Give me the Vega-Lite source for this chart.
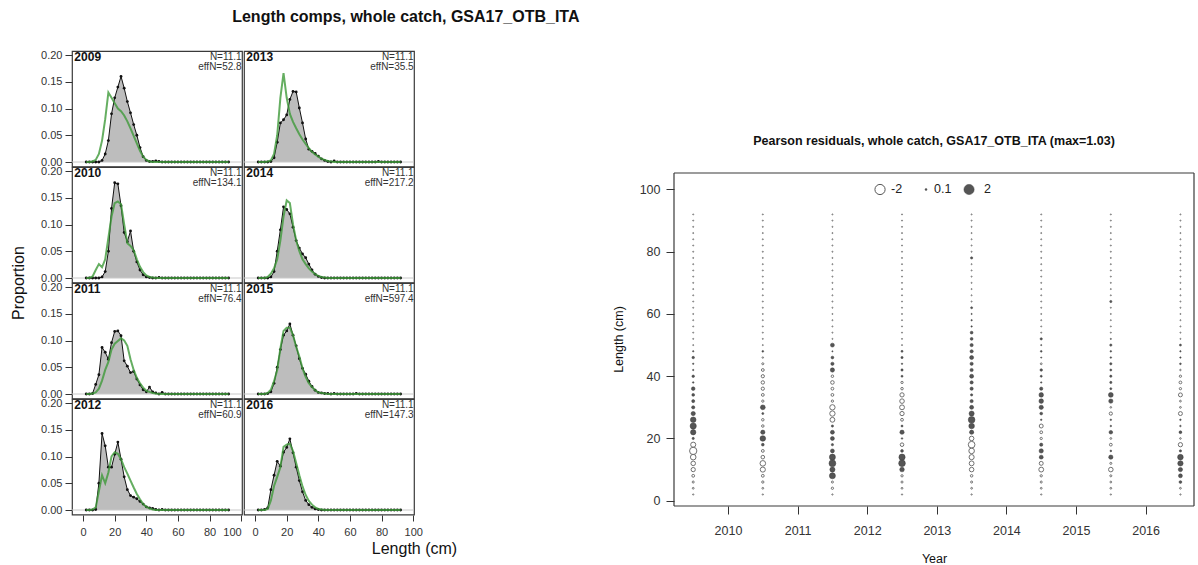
{
  "$schema": "https://vega.github.io/schema/vega-lite/v6.json",
  "background": "white",
  "padding": {"left": 10, "top": 9, "right": 0, "bottom": 0},
  "config": {
    "font": "Liberation Sans",
    "view": {"stroke": "#3a3a3a", "strokeWidth": 1.2},
    "axis": {"grid": false, "labelColor": "#333333", "tickColor": "#333333", "domainColor": "#333333", "titleColor": "#111111", "titleFontWeight": "normal", "labelFlush": false, "labelOverlap": false},
    "title": {"color": "#111111"}
  },
  "datasets": {
    "panels": [
      {"year": 2009, "nLabel": "N=11.1", "effLabel": "effN=52.8"},
      {"year": 2010, "nLabel": "N=11.1", "effLabel": "effN=134.1"},
      {"year": 2011, "nLabel": "N=11.1", "effLabel": "effN=76.4"},
      {"year": 2012, "nLabel": "N=11.1", "effLabel": "effN=60.9"},
      {"year": 2013, "nLabel": "N=11.1", "effLabel": "effN=35.5"},
      {"year": 2014, "nLabel": "N=11.1", "effLabel": "effN=217.2"},
      {"year": 2015, "nLabel": "N=11.1", "effLabel": "effN=597.4"},
      {"year": 2016, "nLabel": "N=11.1", "effLabel": "effN=147.3"}
    ],
    "comps": [
      {"year":2009,"yearSeason":2009.5,"len":2,"obs":0,"exp":0,"resid":-0.03},
      {"year":2009,"yearSeason":2009.5,"len":4,"obs":0,"exp":0,"resid":-0.06},
      {"year":2009,"yearSeason":2009.5,"len":6,"obs":0,"exp":0.001,"resid":-0.08},
      {"year":2009,"yearSeason":2009.5,"len":8,"obs":0,"exp":0.004,"resid":-0.15},
      {"year":2009,"yearSeason":2009.5,"len":10,"obs":0,"exp":0.015,"resid":-0.35},
      {"year":2009,"yearSeason":2009.5,"len":12,"obs":0.003,"exp":0.04,"resid":-0.4},
      {"year":2009,"yearSeason":2009.5,"len":14,"obs":0.015,"exp":0.08,"resid":-0.6},
      {"year":2009,"yearSeason":2009.5,"len":16,"obs":0.04,"exp":0.13,"resid":-1.03},
      {"year":2009,"yearSeason":2009.5,"len":18,"obs":0.09,"exp":0.12,"resid":-0.5},
      {"year":2009,"yearSeason":2009.5,"len":20,"obs":0.12,"exp":0.11,"resid":0.1},
      {"year":2009,"yearSeason":2009.5,"len":22,"obs":0.14,"exp":0.1,"resid":0.55},
      {"year":2009,"yearSeason":2009.5,"len":24,"obs":0.16,"exp":0.095,"resid":0.75},
      {"year":2009,"yearSeason":2009.5,"len":26,"obs":0.138,"exp":0.087,"resid":0.6},
      {"year":2009,"yearSeason":2009.5,"len":28,"obs":0.113,"exp":0.076,"resid":0.35},
      {"year":2009,"yearSeason":2009.5,"len":30,"obs":0.092,"exp":0.063,"resid":0.2},
      {"year":2009,"yearSeason":2009.5,"len":32,"obs":0.07,"exp":0.049,"resid":0.18},
      {"year":2009,"yearSeason":2009.5,"len":34,"obs":0.05,"exp":0.035,"resid":0.15},
      {"year":2009,"yearSeason":2009.5,"len":36,"obs":0.027,"exp":0.021,"resid":0.25},
      {"year":2009,"yearSeason":2009.5,"len":38,"obs":0.01,"exp":0.01,"resid":0.05},
      {"year":2009,"yearSeason":2009.5,"len":40,"obs":0.003,"exp":0.004,"resid":0.12},
      {"year":2009,"yearSeason":2009.5,"len":42,"obs":0.001,"exp":0.001,"resid":0.04},
      {"year":2009,"yearSeason":2009.5,"len":44,"obs":0.001,"exp":0,"resid":0.04},
      {"year":2009,"yearSeason":2009.5,"len":46,"obs":0.002,"exp":0,"resid":0.12},
      {"year":2009,"yearSeason":2009.5,"len":48,"obs":0.001,"exp":0,"resid":0.04},
      {"year":2009,"yearSeason":2009.5,"len":50,"obs":0,"exp":0,"resid":-0.02},
      {"year":2009,"yearSeason":2009.5,"len":52,"obs":0,"exp":0,"resid":-0.02},
      {"year":2009,"yearSeason":2009.5,"len":54,"obs":0,"exp":0,"resid":-0.02},
      {"year":2009,"yearSeason":2009.5,"len":56,"obs":0,"exp":0,"resid":-0.02},
      {"year":2009,"yearSeason":2009.5,"len":58,"obs":0,"exp":0,"resid":-0.02},
      {"year":2009,"yearSeason":2009.5,"len":60,"obs":0,"exp":0,"resid":-0.02},
      {"year":2009,"yearSeason":2009.5,"len":62,"obs":0,"exp":0,"resid":-0.02},
      {"year":2009,"yearSeason":2009.5,"len":64,"obs":0,"exp":0,"resid":-0.02},
      {"year":2009,"yearSeason":2009.5,"len":66,"obs":0,"exp":0,"resid":-0.02},
      {"year":2009,"yearSeason":2009.5,"len":68,"obs":0,"exp":0,"resid":-0.02},
      {"year":2009,"yearSeason":2009.5,"len":70,"obs":0,"exp":0,"resid":-0.02},
      {"year":2009,"yearSeason":2009.5,"len":72,"obs":0,"exp":0,"resid":-0.02},
      {"year":2009,"yearSeason":2009.5,"len":74,"obs":0,"exp":0,"resid":-0.02},
      {"year":2009,"yearSeason":2009.5,"len":76,"obs":0,"exp":0,"resid":-0.02},
      {"year":2009,"yearSeason":2009.5,"len":78,"obs":0,"exp":0,"resid":-0.02},
      {"year":2009,"yearSeason":2009.5,"len":80,"obs":0,"exp":0,"resid":-0.02},
      {"year":2009,"yearSeason":2009.5,"len":82,"obs":0,"exp":0,"resid":-0.02},
      {"year":2009,"yearSeason":2009.5,"len":84,"obs":0,"exp":0,"resid":-0.02},
      {"year":2009,"yearSeason":2009.5,"len":86,"obs":0,"exp":0,"resid":-0.02},
      {"year":2009,"yearSeason":2009.5,"len":88,"obs":0,"exp":0,"resid":-0.02},
      {"year":2009,"yearSeason":2009.5,"len":90,"obs":0,"exp":0,"resid":-0.02},
      {"year":2009,"yearSeason":2009.5,"len":92,"obs":0,"exp":0,"resid":-0.02},

      {"year":2010,"yearSeason":2010.5,"len":2,"obs":0,"exp":0,"resid":-0.03},
      {"year":2010,"yearSeason":2010.5,"len":4,"obs":0,"exp":0,"resid":-0.06},
      {"year":2010,"yearSeason":2010.5,"len":6,"obs":0,"exp":0.003,"resid":-0.1},
      {"year":2010,"yearSeason":2010.5,"len":8,"obs":0,"exp":0.015,"resid":-0.15},
      {"year":2010,"yearSeason":2010.5,"len":10,"obs":0,"exp":0.026,"resid":-0.5},
      {"year":2010,"yearSeason":2010.5,"len":12,"obs":0.002,"exp":0.02,"resid":-0.6},
      {"year":2010,"yearSeason":2010.5,"len":14,"obs":0.012,"exp":0.035,"resid":-0.25},
      {"year":2010,"yearSeason":2010.5,"len":16,"obs":0.05,"exp":0.075,"resid":-0.15},
      {"year":2010,"yearSeason":2010.5,"len":18,"obs":0.13,"exp":0.115,"resid":0.15},
      {"year":2010,"yearSeason":2010.5,"len":20,"obs":0.178,"exp":0.14,"resid":0.6},
      {"year":2010,"yearSeason":2010.5,"len":22,"obs":0.176,"exp":0.143,"resid":0.35},
      {"year":2010,"yearSeason":2010.5,"len":24,"obs":0.135,"exp":0.138,"resid":-0.12},
      {"year":2010,"yearSeason":2010.5,"len":26,"obs":0.085,"exp":0.1,"resid":-0.12},
      {"year":2010,"yearSeason":2010.5,"len":28,"obs":0.068,"exp":0.065,"resid":0.08},
      {"year":2010,"yearSeason":2010.5,"len":30,"obs":0.088,"exp":0.06,"resid":0.45},
      {"year":2010,"yearSeason":2010.5,"len":32,"obs":0.05,"exp":0.052,"resid":-0.1},
      {"year":2010,"yearSeason":2010.5,"len":34,"obs":0.03,"exp":0.035,"resid":-0.15},
      {"year":2010,"yearSeason":2010.5,"len":36,"obs":0.015,"exp":0.021,"resid":-0.2},
      {"year":2010,"yearSeason":2010.5,"len":38,"obs":0.006,"exp":0.011,"resid":-0.22},
      {"year":2010,"yearSeason":2010.5,"len":40,"obs":0.002,"exp":0.005,"resid":-0.2},
      {"year":2010,"yearSeason":2010.5,"len":42,"obs":0.001,"exp":0.002,"resid":-0.15},
      {"year":2010,"yearSeason":2010.5,"len":44,"obs":0,"exp":0.001,"resid":-0.08},
      {"year":2010,"yearSeason":2010.5,"len":46,"obs":0,"exp":0,"resid":-0.04},
      {"year":2010,"yearSeason":2010.5,"len":48,"obs":0.001,"exp":0,"resid":0.06},
      {"year":2010,"yearSeason":2010.5,"len":50,"obs":0,"exp":0,"resid":-0.02},
      {"year":2010,"yearSeason":2010.5,"len":52,"obs":0,"exp":0,"resid":-0.02},
      {"year":2010,"yearSeason":2010.5,"len":54,"obs":0,"exp":0,"resid":-0.02},
      {"year":2010,"yearSeason":2010.5,"len":56,"obs":0,"exp":0,"resid":-0.02},
      {"year":2010,"yearSeason":2010.5,"len":58,"obs":0,"exp":0,"resid":-0.02},
      {"year":2010,"yearSeason":2010.5,"len":60,"obs":0,"exp":0,"resid":-0.02},
      {"year":2010,"yearSeason":2010.5,"len":62,"obs":0,"exp":0,"resid":-0.02},
      {"year":2010,"yearSeason":2010.5,"len":64,"obs":0,"exp":0,"resid":-0.02},
      {"year":2010,"yearSeason":2010.5,"len":66,"obs":0,"exp":0,"resid":-0.02},
      {"year":2010,"yearSeason":2010.5,"len":68,"obs":0,"exp":0,"resid":-0.02},
      {"year":2010,"yearSeason":2010.5,"len":70,"obs":0,"exp":0,"resid":-0.02},
      {"year":2010,"yearSeason":2010.5,"len":72,"obs":0,"exp":0,"resid":-0.02},
      {"year":2010,"yearSeason":2010.5,"len":74,"obs":0,"exp":0,"resid":-0.02},
      {"year":2010,"yearSeason":2010.5,"len":76,"obs":0,"exp":0,"resid":-0.02},
      {"year":2010,"yearSeason":2010.5,"len":78,"obs":0,"exp":0,"resid":-0.02},
      {"year":2010,"yearSeason":2010.5,"len":80,"obs":0,"exp":0,"resid":-0.02},
      {"year":2010,"yearSeason":2010.5,"len":82,"obs":0,"exp":0,"resid":-0.02},
      {"year":2010,"yearSeason":2010.5,"len":84,"obs":0,"exp":0,"resid":-0.02},
      {"year":2010,"yearSeason":2010.5,"len":86,"obs":0,"exp":0,"resid":-0.02},
      {"year":2010,"yearSeason":2010.5,"len":88,"obs":0,"exp":0,"resid":-0.02},
      {"year":2010,"yearSeason":2010.5,"len":90,"obs":0,"exp":0,"resid":-0.02},
      {"year":2010,"yearSeason":2010.5,"len":92,"obs":0,"exp":0,"resid":-0.02},

      {"year":2011,"yearSeason":2011.5,"len":2,"obs":0,"exp":0,"resid":-0.03},
      {"year":2011,"yearSeason":2011.5,"len":4,"obs":0,"exp":0,"resid":-0.1},
      {"year":2011,"yearSeason":2011.5,"len":6,"obs":0.001,"exp":0.001,"resid":-0.08},
      {"year":2011,"yearSeason":2011.5,"len":8,"obs":0.018,"exp":0.003,"resid":0.7},
      {"year":2011,"yearSeason":2011.5,"len":10,"obs":0.036,"exp":0.01,"resid":0.5},
      {"year":2011,"yearSeason":2011.5,"len":12,"obs":0.087,"exp":0.025,"resid":0.9},
      {"year":2011,"yearSeason":2011.5,"len":14,"obs":0.078,"exp":0.045,"resid":0.7},
      {"year":2011,"yearSeason":2011.5,"len":16,"obs":0.065,"exp":0.06,"resid":0.3},
      {"year":2011,"yearSeason":2011.5,"len":18,"obs":0.096,"exp":0.083,"resid":0.1},
      {"year":2011,"yearSeason":2011.5,"len":20,"obs":0.117,"exp":0.094,"resid":0.3},
      {"year":2011,"yearSeason":2011.5,"len":22,"obs":0.118,"exp":0.099,"resid":0.3},
      {"year":2011,"yearSeason":2011.5,"len":24,"obs":0.109,"exp":0.104,"resid":0.1},
      {"year":2011,"yearSeason":2011.5,"len":26,"obs":0.062,"exp":0.1,"resid":-0.45},
      {"year":2011,"yearSeason":2011.5,"len":28,"obs":0.052,"exp":0.09,"resid":-0.55},
      {"year":2011,"yearSeason":2011.5,"len":30,"obs":0.04,"exp":0.065,"resid":-0.55},
      {"year":2011,"yearSeason":2011.5,"len":32,"obs":0.042,"exp":0.045,"resid":-0.1},
      {"year":2011,"yearSeason":2011.5,"len":34,"obs":0.028,"exp":0.03,"resid":-0.15},
      {"year":2011,"yearSeason":2011.5,"len":36,"obs":0.017,"exp":0.02,"resid":-0.15},
      {"year":2011,"yearSeason":2011.5,"len":38,"obs":0.008,"exp":0.012,"resid":-0.25},
      {"year":2011,"yearSeason":2011.5,"len":40,"obs":0.004,"exp":0.006,"resid":-0.12},
      {"year":2011,"yearSeason":2011.5,"len":42,"obs":0.013,"exp":0.004,"resid":0.35},
      {"year":2011,"yearSeason":2011.5,"len":44,"obs":0.004,"exp":0.002,"resid":0.2},
      {"year":2011,"yearSeason":2011.5,"len":46,"obs":0.002,"exp":0.001,"resid":0.15},
      {"year":2011,"yearSeason":2011.5,"len":48,"obs":0,"exp":0,"resid":0.03},
      {"year":2011,"yearSeason":2011.5,"len":50,"obs":0.003,"exp":0,"resid":0.3},
      {"year":2011,"yearSeason":2011.5,"len":52,"obs":0,"exp":0,"resid":-0.02},
      {"year":2011,"yearSeason":2011.5,"len":54,"obs":0,"exp":0,"resid":-0.02},
      {"year":2011,"yearSeason":2011.5,"len":56,"obs":0,"exp":0,"resid":-0.02},
      {"year":2011,"yearSeason":2011.5,"len":58,"obs":0,"exp":0,"resid":-0.02},
      {"year":2011,"yearSeason":2011.5,"len":60,"obs":0,"exp":0,"resid":-0.02},
      {"year":2011,"yearSeason":2011.5,"len":62,"obs":0,"exp":0,"resid":-0.02},
      {"year":2011,"yearSeason":2011.5,"len":64,"obs":0,"exp":0,"resid":-0.02},
      {"year":2011,"yearSeason":2011.5,"len":66,"obs":0,"exp":0,"resid":-0.02},
      {"year":2011,"yearSeason":2011.5,"len":68,"obs":0,"exp":0,"resid":-0.02},
      {"year":2011,"yearSeason":2011.5,"len":70,"obs":0,"exp":0,"resid":-0.02},
      {"year":2011,"yearSeason":2011.5,"len":72,"obs":0,"exp":0,"resid":-0.02},
      {"year":2011,"yearSeason":2011.5,"len":74,"obs":0,"exp":0,"resid":-0.02},
      {"year":2011,"yearSeason":2011.5,"len":76,"obs":0,"exp":0,"resid":-0.02},
      {"year":2011,"yearSeason":2011.5,"len":78,"obs":0,"exp":0,"resid":-0.02},
      {"year":2011,"yearSeason":2011.5,"len":80,"obs":0,"exp":0,"resid":-0.02},
      {"year":2011,"yearSeason":2011.5,"len":82,"obs":0,"exp":0,"resid":-0.02},
      {"year":2011,"yearSeason":2011.5,"len":84,"obs":0,"exp":0,"resid":-0.02},
      {"year":2011,"yearSeason":2011.5,"len":86,"obs":0,"exp":0,"resid":-0.02},
      {"year":2011,"yearSeason":2011.5,"len":88,"obs":0,"exp":0,"resid":-0.02},
      {"year":2011,"yearSeason":2011.5,"len":90,"obs":0,"exp":0,"resid":-0.02},
      {"year":2011,"yearSeason":2011.5,"len":92,"obs":0,"exp":0,"resid":-0.02},

      {"year":2012,"yearSeason":2012.5,"len":2,"obs":0,"exp":0,"resid":-0.03},
      {"year":2012,"yearSeason":2012.5,"len":4,"obs":0,"exp":0,"resid":-0.06},
      {"year":2012,"yearSeason":2012.5,"len":6,"obs":0,"exp":0.001,"resid":-0.08},
      {"year":2012,"yearSeason":2012.5,"len":8,"obs":0.001,"exp":0.005,"resid":-0.1},
      {"year":2012,"yearSeason":2012.5,"len":10,"obs":0.05,"exp":0.035,"resid":0.4},
      {"year":2012,"yearSeason":2012.5,"len":12,"obs":0.143,"exp":0.065,"resid":0.85},
      {"year":2012,"yearSeason":2012.5,"len":14,"obs":0.12,"exp":0.05,"resid":0.75},
      {"year":2012,"yearSeason":2012.5,"len":16,"obs":0.08,"exp":0.07,"resid":0.15},
      {"year":2012,"yearSeason":2012.5,"len":18,"obs":0.08,"exp":0.1,"resid":-0.25},
      {"year":2012,"yearSeason":2012.5,"len":20,"obs":0.104,"exp":0.108,"resid":0.05},
      {"year":2012,"yearSeason":2012.5,"len":22,"obs":0.127,"exp":0.105,"resid":0.35},
      {"year":2012,"yearSeason":2012.5,"len":24,"obs":0.095,"exp":0.095,"resid":0.08},
      {"year":2012,"yearSeason":2012.5,"len":26,"obs":0.062,"exp":0.08,"resid":-0.15},
      {"year":2012,"yearSeason":2012.5,"len":28,"obs":0.038,"exp":0.068,"resid":-0.35},
      {"year":2012,"yearSeason":2012.5,"len":30,"obs":0.027,"exp":0.055,"resid":-0.45},
      {"year":2012,"yearSeason":2012.5,"len":32,"obs":0.024,"exp":0.042,"resid":-0.4},
      {"year":2012,"yearSeason":2012.5,"len":34,"obs":0.021,"exp":0.03,"resid":-0.35},
      {"year":2012,"yearSeason":2012.5,"len":36,"obs":0.016,"exp":0.02,"resid":-0.12},
      {"year":2012,"yearSeason":2012.5,"len":38,"obs":0.011,"exp":0.011,"resid":-0.1},
      {"year":2012,"yearSeason":2012.5,"len":40,"obs":0.006,"exp":0.006,"resid":0.08},
      {"year":2012,"yearSeason":2012.5,"len":42,"obs":0.004,"exp":0.003,"resid":0.1},
      {"year":2012,"yearSeason":2012.5,"len":44,"obs":0.003,"exp":0.001,"resid":0.04},
      {"year":2012,"yearSeason":2012.5,"len":46,"obs":0.001,"exp":0,"resid":0.1},
      {"year":2012,"yearSeason":2012.5,"len":48,"obs":0,"exp":0,"resid":0.08},
      {"year":2012,"yearSeason":2012.5,"len":50,"obs":0.001,"exp":0,"resid":-0.02},
      {"year":2012,"yearSeason":2012.5,"len":52,"obs":0,"exp":0,"resid":-0.02},
      {"year":2012,"yearSeason":2012.5,"len":54,"obs":0,"exp":0,"resid":-0.02},
      {"year":2012,"yearSeason":2012.5,"len":56,"obs":0,"exp":0,"resid":-0.02},
      {"year":2012,"yearSeason":2012.5,"len":58,"obs":0,"exp":0,"resid":-0.02},
      {"year":2012,"yearSeason":2012.5,"len":60,"obs":0,"exp":0,"resid":-0.02},
      {"year":2012,"yearSeason":2012.5,"len":62,"obs":0,"exp":0,"resid":-0.02},
      {"year":2012,"yearSeason":2012.5,"len":64,"obs":0,"exp":0,"resid":-0.02},
      {"year":2012,"yearSeason":2012.5,"len":66,"obs":0,"exp":0,"resid":-0.02},
      {"year":2012,"yearSeason":2012.5,"len":68,"obs":0,"exp":0,"resid":-0.02},
      {"year":2012,"yearSeason":2012.5,"len":70,"obs":0,"exp":0,"resid":-0.02},
      {"year":2012,"yearSeason":2012.5,"len":72,"obs":0,"exp":0,"resid":-0.02},
      {"year":2012,"yearSeason":2012.5,"len":74,"obs":0,"exp":0,"resid":-0.02},
      {"year":2012,"yearSeason":2012.5,"len":76,"obs":0,"exp":0,"resid":-0.02},
      {"year":2012,"yearSeason":2012.5,"len":78,"obs":0,"exp":0,"resid":-0.02},
      {"year":2012,"yearSeason":2012.5,"len":80,"obs":0,"exp":0,"resid":-0.02},
      {"year":2012,"yearSeason":2012.5,"len":82,"obs":0,"exp":0,"resid":-0.02},
      {"year":2012,"yearSeason":2012.5,"len":84,"obs":0,"exp":0,"resid":-0.02},
      {"year":2012,"yearSeason":2012.5,"len":86,"obs":0,"exp":0,"resid":-0.02},
      {"year":2012,"yearSeason":2012.5,"len":88,"obs":0,"exp":0,"resid":-0.02},
      {"year":2012,"yearSeason":2012.5,"len":90,"obs":0,"exp":0,"resid":-0.02},
      {"year":2012,"yearSeason":2012.5,"len":92,"obs":0,"exp":0,"resid":-0.02},

      {"year":2013,"yearSeason":2013.5,"len":2,"obs":0,"exp":0,"resid":-0.03},
      {"year":2013,"yearSeason":2013.5,"len":4,"obs":0,"exp":0,"resid":-0.06},
      {"year":2013,"yearSeason":2013.5,"len":6,"obs":0,"exp":0,"resid":-0.08},
      {"year":2013,"yearSeason":2013.5,"len":8,"obs":0,"exp":0.001,"resid":-0.12},
      {"year":2013,"yearSeason":2013.5,"len":10,"obs":0.001,"exp":0.003,"resid":-0.4},
      {"year":2013,"yearSeason":2013.5,"len":12,"obs":0.008,"exp":0.015,"resid":-0.45},
      {"year":2013,"yearSeason":2013.5,"len":14,"obs":0.037,"exp":0.05,"resid":-0.5},
      {"year":2013,"yearSeason":2013.5,"len":16,"obs":0.073,"exp":0.12,"resid":-0.6},
      {"year":2013,"yearSeason":2013.5,"len":18,"obs":0.079,"exp":0.166,"resid":-0.85},
      {"year":2013,"yearSeason":2013.5,"len":20,"obs":0.088,"exp":0.12,"resid":-0.4},
      {"year":2013,"yearSeason":2013.5,"len":22,"obs":0.117,"exp":0.09,"resid":0.35},
      {"year":2013,"yearSeason":2013.5,"len":24,"obs":0.132,"exp":0.075,"resid":0.6},
      {"year":2013,"yearSeason":2013.5,"len":26,"obs":0.131,"exp":0.063,"resid":0.85},
      {"year":2013,"yearSeason":2013.5,"len":28,"obs":0.101,"exp":0.052,"resid":0.5},
      {"year":2013,"yearSeason":2013.5,"len":30,"obs":0.073,"exp":0.042,"resid":0.3},
      {"year":2013,"yearSeason":2013.5,"len":32,"obs":0.043,"exp":0.034,"resid":0.2},
      {"year":2013,"yearSeason":2013.5,"len":34,"obs":0.024,"exp":0.026,"resid":0.1},
      {"year":2013,"yearSeason":2013.5,"len":36,"obs":0.02,"exp":0.019,"resid":0.2},
      {"year":2013,"yearSeason":2013.5,"len":38,"obs":0.016,"exp":0.014,"resid":0.2},
      {"year":2013,"yearSeason":2013.5,"len":40,"obs":0.011,"exp":0.01,"resid":0.3},
      {"year":2013,"yearSeason":2013.5,"len":42,"obs":0.006,"exp":0.006,"resid":0.2},
      {"year":2013,"yearSeason":2013.5,"len":44,"obs":0.003,"exp":0.004,"resid":0.2},
      {"year":2013,"yearSeason":2013.5,"len":46,"obs":0.001,"exp":0.002,"resid":0.3},
      {"year":2013,"yearSeason":2013.5,"len":48,"obs":0,"exp":0.001,"resid":0.2},
      {"year":2013,"yearSeason":2013.5,"len":50,"obs":0.002,"exp":0,"resid":0.2},
      {"year":2013,"yearSeason":2013.5,"len":52,"obs":0,"exp":0,"resid":0.15},
      {"year":2013,"yearSeason":2013.5,"len":54,"obs":0,"exp":0,"resid":0.15},
      {"year":2013,"yearSeason":2013.5,"len":56,"obs":0,"exp":0,"resid":0.04},
      {"year":2013,"yearSeason":2013.5,"len":58,"obs":0,"exp":0,"resid":0.04},
      {"year":2013,"yearSeason":2013.5,"len":60,"obs":0,"exp":0,"resid":0.03},
      {"year":2013,"yearSeason":2013.5,"len":62,"obs":0,"exp":0,"resid":0.08},
      {"year":2013,"yearSeason":2013.5,"len":64,"obs":0,"exp":0,"resid":-0.02},
      {"year":2013,"yearSeason":2013.5,"len":66,"obs":0,"exp":0,"resid":-0.02},
      {"year":2013,"yearSeason":2013.5,"len":68,"obs":0,"exp":0,"resid":-0.02},
      {"year":2013,"yearSeason":2013.5,"len":70,"obs":0,"exp":0,"resid":-0.02},
      {"year":2013,"yearSeason":2013.5,"len":72,"obs":0,"exp":0,"resid":-0.02},
      {"year":2013,"yearSeason":2013.5,"len":74,"obs":0,"exp":0,"resid":-0.02},
      {"year":2013,"yearSeason":2013.5,"len":76,"obs":0,"exp":0,"resid":-0.02},
      {"year":2013,"yearSeason":2013.5,"len":78,"obs":0.001,"exp":0,"resid":0.1},
      {"year":2013,"yearSeason":2013.5,"len":80,"obs":0,"exp":0,"resid":-0.02},
      {"year":2013,"yearSeason":2013.5,"len":82,"obs":0,"exp":0,"resid":-0.02},
      {"year":2013,"yearSeason":2013.5,"len":84,"obs":0,"exp":0,"resid":-0.02},
      {"year":2013,"yearSeason":2013.5,"len":86,"obs":0,"exp":0,"resid":-0.02},
      {"year":2013,"yearSeason":2013.5,"len":88,"obs":0,"exp":0,"resid":-0.02},
      {"year":2013,"yearSeason":2013.5,"len":90,"obs":0,"exp":0,"resid":-0.02},
      {"year":2013,"yearSeason":2013.5,"len":92,"obs":0,"exp":0,"resid":-0.02},

      {"year":2014,"yearSeason":2014.5,"len":2,"obs":0,"exp":0,"resid":-0.03},
      {"year":2014,"yearSeason":2014.5,"len":4,"obs":0,"exp":0,"resid":-0.06},
      {"year":2014,"yearSeason":2014.5,"len":6,"obs":0,"exp":0,"resid":-0.08},
      {"year":2014,"yearSeason":2014.5,"len":8,"obs":0,"exp":0.002,"resid":-0.1},
      {"year":2014,"yearSeason":2014.5,"len":10,"obs":0.002,"exp":0.008,"resid":-0.45},
      {"year":2014,"yearSeason":2014.5,"len":12,"obs":0.012,"exp":0.018,"resid":-0.3},
      {"year":2014,"yearSeason":2014.5,"len":14,"obs":0.05,"exp":0.035,"resid":0.3},
      {"year":2014,"yearSeason":2014.5,"len":16,"obs":0.09,"exp":0.07,"resid":0.35},
      {"year":2014,"yearSeason":2014.5,"len":18,"obs":0.133,"exp":0.115,"resid":0.2},
      {"year":2014,"yearSeason":2014.5,"len":20,"obs":0.128,"exp":0.145,"resid":-0.1},
      {"year":2014,"yearSeason":2014.5,"len":22,"obs":0.12,"exp":0.14,"resid":-0.15},
      {"year":2014,"yearSeason":2014.5,"len":24,"obs":0.095,"exp":0.1,"resid":-0.3},
      {"year":2014,"yearSeason":2014.5,"len":26,"obs":0.07,"exp":0.07,"resid":0.05},
      {"year":2014,"yearSeason":2014.5,"len":28,"obs":0.056,"exp":0.05,"resid":0.15},
      {"year":2014,"yearSeason":2014.5,"len":30,"obs":0.045,"exp":0.035,"resid":0.35},
      {"year":2014,"yearSeason":2014.5,"len":32,"obs":0.038,"exp":0.026,"resid":0.4},
      {"year":2014,"yearSeason":2014.5,"len":34,"obs":0.026,"exp":0.018,"resid":0.4},
      {"year":2014,"yearSeason":2014.5,"len":36,"obs":0.015,"exp":0.012,"resid":0.2},
      {"year":2014,"yearSeason":2014.5,"len":38,"obs":0.007,"exp":0.007,"resid":0.04},
      {"year":2014,"yearSeason":2014.5,"len":40,"obs":0.003,"exp":0.004,"resid":0.08},
      {"year":2014,"yearSeason":2014.5,"len":42,"obs":0.001,"exp":0.002,"resid":0.12},
      {"year":2014,"yearSeason":2014.5,"len":44,"obs":0,"exp":0.001,"resid":-0.06},
      {"year":2014,"yearSeason":2014.5,"len":46,"obs":0,"exp":0,"resid":0.03},
      {"year":2014,"yearSeason":2014.5,"len":48,"obs":0,"exp":0,"resid":0.06},
      {"year":2014,"yearSeason":2014.5,"len":50,"obs":0,"exp":0,"resid":0.03},
      {"year":2014,"yearSeason":2014.5,"len":52,"obs":0,"exp":0,"resid":0.1},
      {"year":2014,"yearSeason":2014.5,"len":54,"obs":0,"exp":0,"resid":-0.02},
      {"year":2014,"yearSeason":2014.5,"len":56,"obs":0,"exp":0,"resid":-0.02},
      {"year":2014,"yearSeason":2014.5,"len":58,"obs":0,"exp":0,"resid":-0.02},
      {"year":2014,"yearSeason":2014.5,"len":60,"obs":0,"exp":0,"resid":-0.02},
      {"year":2014,"yearSeason":2014.5,"len":62,"obs":0,"exp":0,"resid":-0.02},
      {"year":2014,"yearSeason":2014.5,"len":64,"obs":0,"exp":0,"resid":-0.02},
      {"year":2014,"yearSeason":2014.5,"len":66,"obs":0,"exp":0,"resid":-0.02},
      {"year":2014,"yearSeason":2014.5,"len":68,"obs":0,"exp":0,"resid":-0.02},
      {"year":2014,"yearSeason":2014.5,"len":70,"obs":0,"exp":0,"resid":-0.02},
      {"year":2014,"yearSeason":2014.5,"len":72,"obs":0,"exp":0,"resid":-0.02},
      {"year":2014,"yearSeason":2014.5,"len":74,"obs":0,"exp":0,"resid":-0.02},
      {"year":2014,"yearSeason":2014.5,"len":76,"obs":0,"exp":0,"resid":-0.02},
      {"year":2014,"yearSeason":2014.5,"len":78,"obs":0,"exp":0,"resid":-0.02},
      {"year":2014,"yearSeason":2014.5,"len":80,"obs":0,"exp":0,"resid":-0.02},
      {"year":2014,"yearSeason":2014.5,"len":82,"obs":0,"exp":0,"resid":-0.02},
      {"year":2014,"yearSeason":2014.5,"len":84,"obs":0,"exp":0,"resid":-0.02},
      {"year":2014,"yearSeason":2014.5,"len":86,"obs":0,"exp":0,"resid":-0.02},
      {"year":2014,"yearSeason":2014.5,"len":88,"obs":0,"exp":0,"resid":-0.02},
      {"year":2014,"yearSeason":2014.5,"len":90,"obs":0,"exp":0,"resid":-0.02},
      {"year":2014,"yearSeason":2014.5,"len":92,"obs":0,"exp":0,"resid":-0.02},

      {"year":2015,"yearSeason":2015.5,"len":2,"obs":0,"exp":0,"resid":-0.03},
      {"year":2015,"yearSeason":2015.5,"len":4,"obs":0,"exp":0,"resid":-0.06},
      {"year":2015,"yearSeason":2015.5,"len":6,"obs":0,"exp":0,"resid":-0.06},
      {"year":2015,"yearSeason":2015.5,"len":8,"obs":0.001,"exp":0.002,"resid":-0.08},
      {"year":2015,"yearSeason":2015.5,"len":10,"obs":0.004,"exp":0.008,"resid":-0.4},
      {"year":2015,"yearSeason":2015.5,"len":12,"obs":0.02,"exp":0.024,"resid":-0.08},
      {"year":2015,"yearSeason":2015.5,"len":14,"obs":0.05,"exp":0.045,"resid":0.35},
      {"year":2015,"yearSeason":2015.5,"len":16,"obs":0.083,"exp":0.085,"resid":0.06},
      {"year":2015,"yearSeason":2015.5,"len":18,"obs":0.11,"exp":0.118,"resid":-0.15},
      {"year":2015,"yearSeason":2015.5,"len":20,"obs":0.118,"exp":0.124,"resid":-0.06},
      {"year":2015,"yearSeason":2015.5,"len":22,"obs":0.131,"exp":0.124,"resid":0.25},
      {"year":2015,"yearSeason":2015.5,"len":24,"obs":0.11,"exp":0.11,"resid":0.05},
      {"year":2015,"yearSeason":2015.5,"len":26,"obs":0.09,"exp":0.088,"resid":0.05},
      {"year":2015,"yearSeason":2015.5,"len":28,"obs":0.066,"exp":0.07,"resid":-0.2},
      {"year":2015,"yearSeason":2015.5,"len":30,"obs":0.048,"exp":0.048,"resid":-0.05},
      {"year":2015,"yearSeason":2015.5,"len":32,"obs":0.037,"exp":0.032,"resid":0.35},
      {"year":2015,"yearSeason":2015.5,"len":34,"obs":0.024,"exp":0.02,"resid":0.45},
      {"year":2015,"yearSeason":2015.5,"len":36,"obs":0.014,"exp":0.013,"resid":0.08},
      {"year":2015,"yearSeason":2015.5,"len":38,"obs":0.007,"exp":0.007,"resid":0.1},
      {"year":2015,"yearSeason":2015.5,"len":40,"obs":0.003,"exp":0.003,"resid":0.1},
      {"year":2015,"yearSeason":2015.5,"len":42,"obs":0.002,"exp":0.002,"resid":0.08},
      {"year":2015,"yearSeason":2015.5,"len":44,"obs":0.001,"exp":0.001,"resid":0.1},
      {"year":2015,"yearSeason":2015.5,"len":46,"obs":0.001,"exp":0,"resid":0.05},
      {"year":2015,"yearSeason":2015.5,"len":48,"obs":0,"exp":0,"resid":0.05},
      {"year":2015,"yearSeason":2015.5,"len":50,"obs":0.001,"exp":0,"resid":0.1},
      {"year":2015,"yearSeason":2015.5,"len":52,"obs":0,"exp":0,"resid":0.03},
      {"year":2015,"yearSeason":2015.5,"len":54,"obs":0,"exp":0,"resid":-0.02},
      {"year":2015,"yearSeason":2015.5,"len":56,"obs":0,"exp":0,"resid":-0.02},
      {"year":2015,"yearSeason":2015.5,"len":58,"obs":0,"exp":0,"resid":-0.02},
      {"year":2015,"yearSeason":2015.5,"len":60,"obs":0,"exp":0,"resid":-0.02},
      {"year":2015,"yearSeason":2015.5,"len":62,"obs":0,"exp":0,"resid":-0.02},
      {"year":2015,"yearSeason":2015.5,"len":64,"obs":0.001,"exp":0,"resid":0.1},
      {"year":2015,"yearSeason":2015.5,"len":66,"obs":0,"exp":0,"resid":-0.02},
      {"year":2015,"yearSeason":2015.5,"len":68,"obs":0,"exp":0,"resid":-0.02},
      {"year":2015,"yearSeason":2015.5,"len":70,"obs":0,"exp":0,"resid":-0.02},
      {"year":2015,"yearSeason":2015.5,"len":72,"obs":0,"exp":0,"resid":-0.02},
      {"year":2015,"yearSeason":2015.5,"len":74,"obs":0,"exp":0,"resid":-0.02},
      {"year":2015,"yearSeason":2015.5,"len":76,"obs":0,"exp":0,"resid":-0.02},
      {"year":2015,"yearSeason":2015.5,"len":78,"obs":0,"exp":0,"resid":-0.02},
      {"year":2015,"yearSeason":2015.5,"len":80,"obs":0,"exp":0,"resid":-0.02},
      {"year":2015,"yearSeason":2015.5,"len":82,"obs":0,"exp":0,"resid":-0.02},
      {"year":2015,"yearSeason":2015.5,"len":84,"obs":0,"exp":0,"resid":-0.02},
      {"year":2015,"yearSeason":2015.5,"len":86,"obs":0,"exp":0,"resid":-0.02},
      {"year":2015,"yearSeason":2015.5,"len":88,"obs":0,"exp":0,"resid":-0.02},
      {"year":2015,"yearSeason":2015.5,"len":90,"obs":0,"exp":0,"resid":-0.02},
      {"year":2015,"yearSeason":2015.5,"len":92,"obs":0,"exp":0,"resid":-0.02},

      {"year":2016,"yearSeason":2016.5,"len":2,"obs":0,"exp":0,"resid":-0.03},
      {"year":2016,"yearSeason":2016.5,"len":4,"obs":0,"exp":0,"resid":-0.06},
      {"year":2016,"yearSeason":2016.5,"len":6,"obs":0.001,"exp":0,"resid":0.15},
      {"year":2016,"yearSeason":2016.5,"len":8,"obs":0.004,"exp":0.002,"resid":0.3},
      {"year":2016,"yearSeason":2016.5,"len":10,"obs":0.038,"exp":0.018,"resid":0.35},
      {"year":2016,"yearSeason":2016.5,"len":12,"obs":0.065,"exp":0.045,"resid":0.55},
      {"year":2016,"yearSeason":2016.5,"len":14,"obs":0.091,"exp":0.062,"resid":0.6},
      {"year":2016,"yearSeason":2016.5,"len":16,"obs":0.082,"exp":0.08,"resid":0.1},
      {"year":2016,"yearSeason":2016.5,"len":18,"obs":0.108,"exp":0.118,"resid":-0.35},
      {"year":2016,"yearSeason":2016.5,"len":20,"obs":0.117,"exp":0.122,"resid":-0.05},
      {"year":2016,"yearSeason":2016.5,"len":22,"obs":0.133,"exp":0.124,"resid":0.15},
      {"year":2016,"yearSeason":2016.5,"len":24,"obs":0.107,"exp":0.11,"resid":0.05},
      {"year":2016,"yearSeason":2016.5,"len":26,"obs":0.08,"exp":0.088,"resid":0.05},
      {"year":2016,"yearSeason":2016.5,"len":28,"obs":0.055,"exp":0.065,"resid":-0.3},
      {"year":2016,"yearSeason":2016.5,"len":30,"obs":0.034,"exp":0.044,"resid":-0.06},
      {"year":2016,"yearSeason":2016.5,"len":32,"obs":0.018,"exp":0.028,"resid":-0.06},
      {"year":2016,"yearSeason":2016.5,"len":34,"obs":0.01,"exp":0.017,"resid":-0.3},
      {"year":2016,"yearSeason":2016.5,"len":36,"obs":0.005,"exp":0.01,"resid":-0.1},
      {"year":2016,"yearSeason":2016.5,"len":38,"obs":0.002,"exp":0.005,"resid":-0.15},
      {"year":2016,"yearSeason":2016.5,"len":40,"obs":0.001,"exp":0.002,"resid":-0.1},
      {"year":2016,"yearSeason":2016.5,"len":42,"obs":0,"exp":0.001,"resid":-0.04},
      {"year":2016,"yearSeason":2016.5,"len":44,"obs":0,"exp":0,"resid":0.06},
      {"year":2016,"yearSeason":2016.5,"len":46,"obs":0,"exp":0,"resid":0.04},
      {"year":2016,"yearSeason":2016.5,"len":48,"obs":0,"exp":0,"resid":0.04},
      {"year":2016,"yearSeason":2016.5,"len":50,"obs":0,"exp":0,"resid":0.08},
      {"year":2016,"yearSeason":2016.5,"len":52,"obs":0,"exp":0,"resid":-0.02},
      {"year":2016,"yearSeason":2016.5,"len":54,"obs":0,"exp":0,"resid":-0.02},
      {"year":2016,"yearSeason":2016.5,"len":56,"obs":0,"exp":0,"resid":-0.02},
      {"year":2016,"yearSeason":2016.5,"len":58,"obs":0,"exp":0,"resid":-0.02},
      {"year":2016,"yearSeason":2016.5,"len":60,"obs":0,"exp":0,"resid":-0.02},
      {"year":2016,"yearSeason":2016.5,"len":62,"obs":0,"exp":0,"resid":-0.02},
      {"year":2016,"yearSeason":2016.5,"len":64,"obs":0,"exp":0,"resid":-0.02},
      {"year":2016,"yearSeason":2016.5,"len":66,"obs":0,"exp":0,"resid":-0.02},
      {"year":2016,"yearSeason":2016.5,"len":68,"obs":0,"exp":0,"resid":-0.02},
      {"year":2016,"yearSeason":2016.5,"len":70,"obs":0,"exp":0,"resid":-0.02},
      {"year":2016,"yearSeason":2016.5,"len":72,"obs":0,"exp":0,"resid":-0.02},
      {"year":2016,"yearSeason":2016.5,"len":74,"obs":0,"exp":0,"resid":-0.02},
      {"year":2016,"yearSeason":2016.5,"len":76,"obs":0,"exp":0,"resid":-0.02},
      {"year":2016,"yearSeason":2016.5,"len":78,"obs":0,"exp":0,"resid":-0.02},
      {"year":2016,"yearSeason":2016.5,"len":80,"obs":0,"exp":0,"resid":-0.02},
      {"year":2016,"yearSeason":2016.5,"len":82,"obs":0,"exp":0,"resid":-0.02},
      {"year":2016,"yearSeason":2016.5,"len":84,"obs":0,"exp":0,"resid":-0.02},
      {"year":2016,"yearSeason":2016.5,"len":86,"obs":0,"exp":0,"resid":-0.02},
      {"year":2016,"yearSeason":2016.5,"len":88,"obs":0,"exp":0,"resid":-0.02},
      {"year":2016,"yearSeason":2016.5,"len":90,"obs":0,"exp":0,"resid":-0.02},
      {"year":2016,"yearSeason":2016.5,"len":92,"obs":0,"exp":0,"resid":-0.02}
    ]
  },
  "spacing": 33,
  "hconcat": [
    {
      "title": {"text": "Length comps, whole catch, GSA17_OTB_ITA", "fontSize": 16, "fontWeight": "bold", "anchor": "middle", "dx": 172, "offset": 24},
      "spacing": -4,
      "hconcat": [
        {
          "data": {"name": "comps"},
          "transform": [
            {"filter": "datum.year <= 2012"},
            {"lookup": "year", "from": {"data": {"name": "panels"}, "key": "year", "fields": ["nLabel", "effLabel"]}}
          ],
          "facet": {"row": {"field": "year", "type": "ordinal", "header": {"labels": false, "title": "Proportion", "titleFontSize": 16, "titleFontWeight": "normal", "titleColor": "#111111", "titlePadding": 3}}},
          "spacing": 0,
          "bounds": "flush",
          "spec": {
            "width": 170,
            "height": 115.5,
            "layer": [
              {"mark": {"type": "area", "color": "#bdbdbd", "opacity": 1}, "encoding": {
                "x": {"field": "len", "type": "quantitative", "scale": {"domain": [-7, 100.5], "nice": false, "zero": false}, "axis": {"values": [0, 20, 40, 60, 80, 100], "title": null, "tickSize": 6, "labelPadding": 5, "labelFontSize": 11, "labelFlush": 2, "domain": false}},
                "y": {"field": "obs", "type": "quantitative", "scale": {"domain": [-0.0084, 0.2075], "nice": false, "zero": false}, "axis": {"values": [0, 0.05, 0.1, 0.15, 0.2], "format": ".2f", "title": null, "tickSize": 7, "labelPadding": 3, "labelFontSize": 11, "domain": false}}}},
              {"transform": [{"filter": "datum.len == 2"}], "mark": {"type": "rule", "color": "#c8c8c8", "strokeWidth": 1}, "encoding": {
                "y": {"datum": 0, "type": "quantitative", "axis": {"values": [0, 0.05, 0.1, 0.15, 0.2], "format": ".2f", "title": null, "tickSize": 7, "labelPadding": 3, "labelFontSize": 11, "domain": false}}}},
              {"mark": {"type": "line", "color": "#111111", "strokeWidth": 1, "point": {"filled": true, "color": "#111111", "size": 8}}, "encoding": {
                "x": {"field": "len", "type": "quantitative", "axis": {"values": [0, 20, 40, 60, 80, 100], "title": null, "tickSize": 6, "labelPadding": 5, "labelFontSize": 11, "labelFlush": 2, "domain": false}},
                "y": {"field": "obs", "type": "quantitative", "axis": {"values": [0, 0.05, 0.1, 0.15, 0.2], "format": ".2f", "title": null, "tickSize": 7, "labelPadding": 3, "labelFontSize": 11, "domain": false}}}},
              {"mark": {"type": "line", "color": "#3f9a3a", "strokeWidth": 2, "opacity": 0.8}, "encoding": {
                "x": {"field": "len", "type": "quantitative", "axis": {"values": [0, 20, 40, 60, 80, 100], "title": null, "tickSize": 6, "labelPadding": 5, "labelFontSize": 11, "labelFlush": 2, "domain": false}},
                "y": {"field": "exp", "type": "quantitative", "axis": {"values": [0, 0.05, 0.1, 0.15, 0.2], "format": ".2f", "title": null, "tickSize": 7, "labelPadding": 3, "labelFontSize": 11, "domain": false}}}},
              {"transform": [{"filter": "datum.len == 2"}], "mark": {"type": "text", "align": "left", "baseline": "top", "fontWeight": "bold", "fontSize": 12, "color": "#111111"}, "encoding": {
                "x": {"datum": -5.5, "type": "quantitative", "axis": {"values": [0, 20, 40, 60, 80, 100], "title": null, "tickSize": 6, "labelPadding": 5, "labelFontSize": 11, "labelFlush": 2, "domain": false}},
                "y": {"datum": 0.2055, "type": "quantitative", "axis": {"values": [0, 0.05, 0.1, 0.15, 0.2], "format": ".2f", "title": null, "tickSize": 7, "labelPadding": 3, "labelFontSize": 11, "domain": false}},
                "text": {"field": "year", "type": "nominal"}}},
              {"transform": [{"filter": "datum.len == 2"}], "mark": {"type": "text", "align": "right", "baseline": "top", "fontSize": 10, "color": "#333333"}, "encoding": {
                "x": {"datum": 100.3, "type": "quantitative", "axis": {"values": [0, 20, 40, 60, 80, 100], "title": null, "tickSize": 6, "labelPadding": 5, "labelFontSize": 11, "labelFlush": 2, "domain": false}},
                "y": {"datum": 0.2055, "type": "quantitative", "axis": {"values": [0, 0.05, 0.1, 0.15, 0.2], "format": ".2f", "title": null, "tickSize": 7, "labelPadding": 3, "labelFontSize": 11, "domain": false}},
                "text": {"field": "nLabel", "type": "nominal"}}},
              {"transform": [{"filter": "datum.len == 2"}], "mark": {"type": "text", "align": "right", "baseline": "top", "fontSize": 10, "color": "#333333"}, "encoding": {
                "x": {"datum": 100.3, "type": "quantitative", "axis": {"values": [0, 20, 40, 60, 80, 100], "title": null, "tickSize": 6, "labelPadding": 5, "labelFontSize": 11, "labelFlush": 2, "domain": false}},
                "y": {"datum": 0.187, "type": "quantitative", "axis": {"values": [0, 0.05, 0.1, 0.15, 0.2], "format": ".2f", "title": null, "tickSize": 7, "labelPadding": 3, "labelFontSize": 11, "domain": false}},
                "text": {"field": "effLabel", "type": "nominal"}}}
            ]
          }
        },
        {
          "data": {"name": "comps"},
          "transform": [
            {"filter": "datum.year >= 2013"},
            {"lookup": "year", "from": {"data": {"name": "panels"}, "key": "year", "fields": ["nLabel", "effLabel"]}}
          ],
          "facet": {"row": {"field": "year", "type": "ordinal", "header": {"labels": false, "title": null}}},
          "spacing": 0,
          "bounds": "flush",
          "spec": {
            "width": 170,
            "height": 115.5,
            "layer": [
              {"mark": {"type": "area", "color": "#bdbdbd", "opacity": 1}, "encoding": {
                "x": {"field": "len", "type": "quantitative", "scale": {"domain": [-7, 100.5], "nice": false, "zero": false}, "axis": {"values": [0, 20, 40, 60, 80, 100], "title": "Length (cm)", "titleAnchor": "end", "titleAlign": "center", "titleFontSize": 16, "titlePadding": 3, "tickSize": 6, "labelPadding": 5, "labelFontSize": 11, "domain": false}},
                "y": {"field": "obs", "type": "quantitative", "scale": {"domain": [-0.0084, 0.2075], "nice": false, "zero": false}, "axis": null}}},
              {"transform": [{"filter": "datum.len == 2"}], "mark": {"type": "rule", "color": "#c8c8c8", "strokeWidth": 1}, "encoding": {"y": {"datum": 0, "type": "quantitative", "axis": null}}},
              {"mark": {"type": "line", "color": "#111111", "strokeWidth": 1, "point": {"filled": true, "color": "#111111", "size": 8}}, "encoding": {
                "x": {"field": "len", "type": "quantitative", "axis": {"values": [0, 20, 40, 60, 80, 100], "title": "Length (cm)", "titleAnchor": "end", "titleAlign": "center", "titleFontSize": 16, "titlePadding": 3, "tickSize": 6, "labelPadding": 5, "labelFontSize": 11, "domain": false}},
                "y": {"field": "obs", "type": "quantitative", "axis": null}}},
              {"mark": {"type": "line", "color": "#3f9a3a", "strokeWidth": 2, "opacity": 0.8}, "encoding": {
                "x": {"field": "len", "type": "quantitative", "axis": {"values": [0, 20, 40, 60, 80, 100], "title": "Length (cm)", "titleAnchor": "end", "titleAlign": "center", "titleFontSize": 16, "titlePadding": 3, "tickSize": 6, "labelPadding": 5, "labelFontSize": 11, "domain": false}},
                "y": {"field": "exp", "type": "quantitative", "axis": null}}},
              {"transform": [{"filter": "datum.len == 2"}], "mark": {"type": "text", "align": "left", "baseline": "top", "fontWeight": "bold", "fontSize": 12, "color": "#111111"}, "encoding": {
                "x": {"datum": -5.5, "type": "quantitative", "axis": {"values": [0, 20, 40, 60, 80, 100], "title": "Length (cm)", "titleAnchor": "end", "titleAlign": "center", "titleFontSize": 16, "titlePadding": 3, "tickSize": 6, "labelPadding": 5, "labelFontSize": 11, "domain": false}},
                "y": {"datum": 0.2055, "type": "quantitative", "axis": null},
                "text": {"field": "year", "type": "nominal"}}},
              {"transform": [{"filter": "datum.len == 2"}], "mark": {"type": "text", "align": "right", "baseline": "top", "fontSize": 10, "color": "#333333"}, "encoding": {
                "x": {"datum": 100.3, "type": "quantitative", "axis": {"values": [0, 20, 40, 60, 80, 100], "title": "Length (cm)", "titleAnchor": "end", "titleAlign": "center", "titleFontSize": 16, "titlePadding": 3, "tickSize": 6, "labelPadding": 5, "labelFontSize": 11, "domain": false}},
                "y": {"datum": 0.2055, "type": "quantitative", "axis": null},
                "text": {"field": "nLabel", "type": "nominal"}}},
              {"transform": [{"filter": "datum.len == 2"}], "mark": {"type": "text", "align": "right", "baseline": "top", "fontSize": 10, "color": "#333333"}, "encoding": {
                "x": {"datum": 100.3, "type": "quantitative", "axis": {"values": [0, 20, 40, 60, 80, 100], "title": "Length (cm)", "titleAnchor": "end", "titleAlign": "center", "titleFontSize": 16, "titlePadding": 3, "tickSize": 6, "labelPadding": 5, "labelFontSize": 11, "domain": false}},
                "y": {"datum": 0.187, "type": "quantitative", "axis": null},
                "text": {"field": "effLabel", "type": "nominal"}}}
            ]
          }
        }
      ]
    },
    {
      "width": 520,
      "height": 455,
      "view": {"stroke": null},
      "data": {"name": "comps"},
      "layer": [
        {"data": {"values": [{"edge": "left"}]}, "mark": {"type": "tick", "orient": "vertical", "color": "#3a3a3a", "thickness": 1.2, "size": 333, "opacity": 1}, "encoding": {
          "x": {"datum": 2009.224, "type": "quantitative", "scale": {"domain": [2009.224, 2016.695], "nice": false, "zero": false}, "axis": {"values": [2010, 2011, 2012, 2013, 2014, 2015, 2016], "format": "d", "title": "Year", "titleFontSize": 12.5, "titlePadding": 16, "labelFontSize": 12.5, "labelPadding": 10, "tickSize": 8, "domain": false}},
          "y": {"datum": 51.8, "type": "quantitative", "scale": {"domain": [-1.7, 144.5], "nice": false, "zero": false}, "axis": {"values": [0, 20, 40, 60, 80, 100], "title": null, "labelFontSize": 12.5, "labelPadding": 6, "tickSize": 8, "domain": false}}}},
        {"data": {"values": [{"edge": "right"}]}, "mark": {"type": "tick", "orient": "vertical", "color": "#3a3a3a", "thickness": 1.2, "size": 333, "opacity": 1}, "encoding": {
          "x": {"datum": 2016.695, "type": "quantitative", "axis": {"values": [2010, 2011, 2012, 2013, 2014, 2015, 2016], "format": "d", "title": "Year", "titleFontSize": 12.5, "titlePadding": 16, "labelFontSize": 12.5, "labelPadding": 10, "tickSize": 8, "domain": false}},
          "y": {"datum": 51.8, "type": "quantitative", "axis": {"values": [0, 20, 40, 60, 80, 100], "title": null, "labelFontSize": 12.5, "labelPadding": 6, "tickSize": 8, "domain": false}}}},
        {"data": {"values": [{"edge": "top"}]}, "mark": {"type": "rule", "color": "#3a3a3a", "strokeWidth": 1.2}, "encoding": {
          "y": {"datum": 105.3, "type": "quantitative", "axis": {"values": [0, 20, 40, 60, 80, 100], "title": null, "labelFontSize": 12.5, "labelPadding": 6, "tickSize": 8, "domain": false}}}},
        {"data": {"values": [{"edge": "bottom"}]}, "mark": {"type": "rule", "color": "#3a3a3a", "strokeWidth": 1.2}, "encoding": {
          "y": {"datum": -1.7, "type": "quantitative", "axis": {"values": [0, 20, 40, 60, 80, 100], "title": null, "labelFontSize": 12.5, "labelPadding": 6, "tickSize": 8, "domain": false}}}},
        {"transform": [{"filter": "datum.resid < 0"}], "mark": {"type": "point", "shape": "circle", "filled": false, "color": "#707070", "strokeWidth": 1, "opacity": 1}, "encoding": {
          "x": {"field": "yearSeason", "type": "quantitative", "axis": {"values": [2010, 2011, 2012, 2013, 2014, 2015, 2016], "format": "d", "title": "Year", "titleFontSize": 12.5, "titlePadding": 16, "labelFontSize": 12.5, "labelPadding": 10, "tickSize": 8, "domain": false}},
          "y": {"field": "len", "type": "quantitative", "axis": {"values": [0, 20, 40, 60, 80, 100], "title": null, "labelFontSize": 12.5, "labelPadding": 6, "tickSize": 8, "domain": false}},
          "size": {"field": "resid", "type": "quantitative", "scale": {"domain": [0, -2], "range": [0, 104], "zero": false}, "legend": null}}},
        {"transform": [{"filter": "datum.resid >= 0"}], "mark": {"type": "circle", "color": "#555555", "stroke": "#3a3a3a", "strokeWidth": 0.5, "opacity": 1}, "encoding": {
          "x": {"field": "yearSeason", "type": "quantitative", "axis": {"values": [2010, 2011, 2012, 2013, 2014, 2015, 2016], "format": "d", "title": "Year", "titleFontSize": 12.5, "titlePadding": 16, "labelFontSize": 12.5, "labelPadding": 10, "tickSize": 8, "domain": false}},
          "y": {"field": "len", "type": "quantitative", "axis": {"values": [0, 20, 40, 60, 80, 100], "title": null, "labelFontSize": 12.5, "labelPadding": 6, "tickSize": 8, "domain": false}},
          "size": {"field": "resid", "type": "quantitative", "scale": {"domain": [0, 2], "range": [0, 104], "zero": false}, "legend": null}}},
        {"data": {"values": [{"label": "Pearson residuals, whole catch, GSA17_OTB_ITA (max=1.03)"}]}, "mark": {"type": "text", "align": "center", "baseline": "middle", "fontSize": 12.5, "fontWeight": "bold", "color": "#111111"}, "encoding": {
          "x": {"datum": 2012.96, "type": "quantitative", "axis": {"values": [2010, 2011, 2012, 2013, 2014, 2015, 2016], "format": "d", "title": "Year", "titleFontSize": 12.5, "titlePadding": 16, "labelFontSize": 12.5, "labelPadding": 10, "tickSize": 8, "domain": false}},
          "y": {"datum": 115.6, "type": "quantitative", "axis": {"values": [0, 20, 40, 60, 80, 100], "title": null, "labelFontSize": 12.5, "labelPadding": 6, "tickSize": 8, "domain": false}},
          "text": {"field": "label", "type": "nominal"}}},
        {"data": {"values": [{"label": "Length (cm)"}]}, "mark": {"type": "text", "align": "center", "baseline": "middle", "angle": 270, "fontSize": 12.5, "color": "#111111"}, "encoding": {
          "x": {"datum": 2008.434, "type": "quantitative", "axis": {"values": [2010, 2011, 2012, 2013, 2014, 2015, 2016], "format": "d", "title": "Year", "titleFontSize": 12.5, "titlePadding": 16, "labelFontSize": 12.5, "labelPadding": 10, "tickSize": 8, "domain": false}},
          "y": {"datum": 51.8, "type": "quantitative", "axis": {"values": [0, 20, 40, 60, 80, 100], "title": null, "labelFontSize": 12.5, "labelPadding": 6, "tickSize": 8, "domain": false}},
          "text": {"field": "label", "type": "nominal"}}},
        {"data": {"values": [{"label": "-2"}]}, "mark": {"type": "point", "shape": "circle", "filled": false, "color": "#555555", "strokeWidth": 1, "size": 104, "opacity": 1}, "encoding": {
          "x": {"datum": 2012.184, "type": "quantitative", "axis": {"values": [2010, 2011, 2012, 2013, 2014, 2015, 2016], "format": "d", "title": "Year", "titleFontSize": 12.5, "titlePadding": 16, "labelFontSize": 12.5, "labelPadding": 10, "tickSize": 8, "domain": false}},
          "y": {"datum": 100, "type": "quantitative", "axis": {"values": [0, 20, 40, 60, 80, 100], "title": null, "labelFontSize": 12.5, "labelPadding": 6, "tickSize": 8, "domain": false}}}},
        {"data": {"values": [{"label": "-2"}]}, "mark": {"type": "text", "align": "left", "baseline": "middle", "fontSize": 12.5, "color": "#222222"}, "encoding": {
          "x": {"datum": 2012.342, "type": "quantitative", "axis": {"values": [2010, 2011, 2012, 2013, 2014, 2015, 2016], "format": "d", "title": "Year", "titleFontSize": 12.5, "titlePadding": 16, "labelFontSize": 12.5, "labelPadding": 10, "tickSize": 8, "domain": false}},
          "y": {"datum": 100, "type": "quantitative", "axis": {"values": [0, 20, 40, 60, 80, 100], "title": null, "labelFontSize": 12.5, "labelPadding": 6, "tickSize": 8, "domain": false}},
          "text": {"field": "label", "type": "nominal"}}},
        {"data": {"values": [{"label": "0.1"}]}, "mark": {"type": "circle", "color": "#555555", "size": 6, "opacity": 1}, "encoding": {
          "x": {"datum": 2012.845, "type": "quantitative", "axis": {"values": [2010, 2011, 2012, 2013, 2014, 2015, 2016], "format": "d", "title": "Year", "titleFontSize": 12.5, "titlePadding": 16, "labelFontSize": 12.5, "labelPadding": 10, "tickSize": 8, "domain": false}},
          "y": {"datum": 100, "type": "quantitative", "axis": {"values": [0, 20, 40, 60, 80, 100], "title": null, "labelFontSize": 12.5, "labelPadding": 6, "tickSize": 8, "domain": false}}}},
        {"data": {"values": [{"label": "0.1"}]}, "mark": {"type": "text", "align": "left", "baseline": "middle", "fontSize": 12.5, "color": "#222222"}, "encoding": {
          "x": {"datum": 2012.96, "type": "quantitative", "axis": {"values": [2010, 2011, 2012, 2013, 2014, 2015, 2016], "format": "d", "title": "Year", "titleFontSize": 12.5, "titlePadding": 16, "labelFontSize": 12.5, "labelPadding": 10, "tickSize": 8, "domain": false}},
          "y": {"datum": 100, "type": "quantitative", "axis": {"values": [0, 20, 40, 60, 80, 100], "title": null, "labelFontSize": 12.5, "labelPadding": 6, "tickSize": 8, "domain": false}},
          "text": {"field": "label", "type": "nominal"}}},
        {"data": {"values": [{"label": "2"}]}, "mark": {"type": "circle", "color": "#555555", "stroke": "#3a3a3a", "strokeWidth": 0.5, "size": 104, "opacity": 1}, "encoding": {
          "x": {"datum": 2013.463, "type": "quantitative", "axis": {"values": [2010, 2011, 2012, 2013, 2014, 2015, 2016], "format": "d", "title": "Year", "titleFontSize": 12.5, "titlePadding": 16, "labelFontSize": 12.5, "labelPadding": 10, "tickSize": 8, "domain": false}},
          "y": {"datum": 100, "type": "quantitative", "axis": {"values": [0, 20, 40, 60, 80, 100], "title": null, "labelFontSize": 12.5, "labelPadding": 6, "tickSize": 8, "domain": false}}}},
        {"data": {"values": [{"label": "2"}]}, "mark": {"type": "text", "align": "left", "baseline": "middle", "fontSize": 12.5, "color": "#222222"}, "encoding": {
          "x": {"datum": 2013.678, "type": "quantitative", "axis": {"values": [2010, 2011, 2012, 2013, 2014, 2015, 2016], "format": "d", "title": "Year", "titleFontSize": 12.5, "titlePadding": 16, "labelFontSize": 12.5, "labelPadding": 10, "tickSize": 8, "domain": false}},
          "y": {"datum": 100, "type": "quantitative", "axis": {"values": [0, 20, 40, 60, 80, 100], "title": null, "labelFontSize": 12.5, "labelPadding": 6, "tickSize": 8, "domain": false}},
          "text": {"field": "label", "type": "nominal"}}}
      ],
      "resolve": {"scale": {"size": "independent"}}
    }
  ]
}
